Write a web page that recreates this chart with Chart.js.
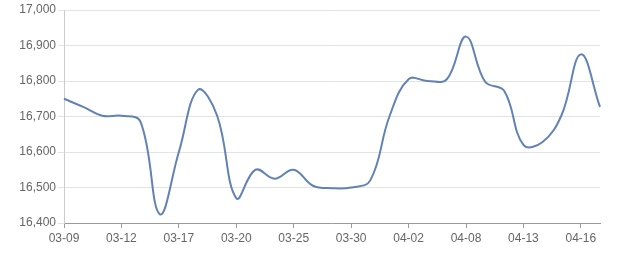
<!DOCTYPE html>
<html>
<head>
<meta charset="utf-8">
<script src="https://cdn.jsdelivr.net/npm/chart.js@4/dist/chart.umd.min.js"></script>
<style>
html,body{margin:0;padding:0;background:#fff;}
#wrap{width:640px;height:270px;position:relative;}
</style>
</head>
<body>
<div id="wrap"><canvas id="c" width="640" height="270"></canvas></div>
<script>
const dates = ["03-09","03-10","03-11","03-12","03-13","03-16","03-17","03-18","03-19","03-20",
  "03-23","03-24","03-25","03-26","03-27","03-30","03-31","04-01","04-02","04-03",
  "04-07","04-08","04-09","04-10","04-13","04-14","04-15","04-16","04-17"];
const prices = [16750,16727,16702,16702,16685,16425,16600,16775,16702,16470,
  16550,16525,16550,16505,16498,16500,16520,16700,16805,16800,
  16805,16925,16798,16772,16620,16628,16705,16875,16727];
const yTicks = [16400,16500,16600,16700,16800,16900,17000];
const labelEvery = 3;

new Chart(document.getElementById('c'), {
  type: 'line',
  data: {
    labels: dates,
    datasets: [{
      data: prices,
      borderColor: '#6282b5',
      borderWidth: 2,
      pointRadius: 0,
      pointHoverRadius: 0,
      tension: 0.4,
      fill: false
    }]
  },
  options: {
    responsive: false,
    animation: false,
    layout: { padding: { top: 10, right: 40, left: 0, bottom: 0 } },
    plugins: { legend: { display: false }, tooltip: { enabled: false } },
    scales: {
      x: {
        offset: false,
        grid: { display: true, drawOnChartArea: false, drawTicks: true, tickLength: 5, color: '#999' },
        border: { display: true, color: '#999', width: 1 },
        ticks: {
          autoSkip: false, maxRotation: 0, padding: 3,
          color: '#666', font: { family: 'Liberation Sans', size: 12 },
          callback: function(v, i) { return i % labelEvery === 0 ? dates[i] : null; }
        },
        afterFit: function(s) { s.height = 47; }
      },
      y: {
        min: yTicks[0], max: yTicks[yTicks.length - 1],
        afterBuildTicks: function(s) { s.ticks = yTicks.map(v => ({ value: v })); },
        grid: { color: '#e3e3e3', tickLength: 6, drawTicks: true },
        border: { display: true, color: '#ccc' },
        ticks: {
          padding: 2, color: '#666', font: { family: 'Liberation Sans', size: 12 },
          callback: function(v) { return Number(v).toLocaleString('en-US'); }
        },
        afterFit: function(s) { s.width = 64; }
      }
    }
  }
});
</script>
</body>
</html>
